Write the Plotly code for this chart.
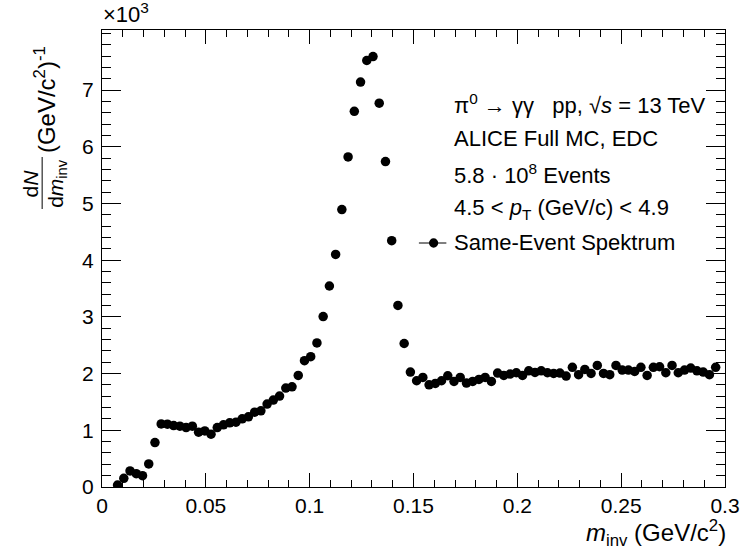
import numpy as np
import plotly.graph_objects as go

# ---------------- data ----------------
bin_width = 0.003
first_bin = 2
counts = [
    35, 154, 283, 235, 200, 407, 783, 1113, 1108, 1083,
    1073, 1048, 1073, 967, 989, 932, 1048, 1096, 1132, 1144,
    1202, 1237, 1320, 1343, 1462, 1533, 1603, 1745, 1767, 1968,
    2228, 2298, 2540, 3005, 3545, 4101, 4893, 5821, 6625, 7142,
    7522, 7592, 6770, 5739, 4345, 3203, 2531, 2027, 1874, 1933,
    1803, 1827, 1874, 1962, 1862, 1933, 1833, 1862, 1897, 1933,
    1862, 2009, 1968, 1992, 2015, 1968, 2050, 2021, 2050, 2015,
    2003, 2009, 1957, 2110, 1980, 2074, 2003, 2145, 2003, 1980,
    2145, 2063, 2063, 2038, 2110, 1968, 2110, 2121, 2015, 2145,
    2015, 2063, 2098, 2050, 2027, 1980, 2110,
]
minv = [round((first_bin + i + 0.5) * bin_width, 5) for i in range(len(counts))]

x_ticks = [0, 0.05, 0.1, 0.15, 0.2, 0.25, 0.3]
x_ticklabels = ["0", "0.05", "0.1", "0.15", "0.2", "0.25", "0.3"]
y_ticks = [0, 1000, 2000, 3000, 4000, 5000, 6000, 7000]
y_ticklabels = ["0", "1", "2", "3", "4", "5", "6", "7"]

legend_lines = [
    "π<sup>0</sup> → γγ\u00a0\u00a0\u00a0pp, √<i>s</i> = 13 TeV",
    "ALICE Full MC, EDC",
    "5.8 · 10<sup>8</sup> Events",
    "4.5 &lt; <i>p</i><sub>T</sub> (GeV/c) &lt; 4.9",
    "Same-Event Spektrum",
]

# ---------------- layout geometry (pixels) ----------------
W, H = 752, 550
L, R, T, B = 102, 737, 30, 487
FONT = "Liberation Sans, Arial, Helvetica, sans-serif"
FS = 21
FL = 22
FT = 24


def px(x):
    return (x - L) / (R - L)


def py(y):
    return (B - y) / (B - T)


fig = go.Figure()
fig.add_trace(go.Scatter(
    x=minv, y=counts, mode="markers",
    marker=dict(symbol="circle", size=9.5, color="black", line=dict(width=0)),
    error_x=dict(type="constant", value=bin_width / 2, color="black", thickness=1, width=0),
    showlegend=False, hoverinfo="x+y",
))

axis_common = dict(
    showline=True, linecolor="black", linewidth=1, mirror="allticks",
    ticks="inside", tickcolor="black", tickwidth=1,
    showgrid=False, zeroline=False,
    tickfont=dict(family=FONT, size=FS, color="black"),
)

fig.update_xaxes(
    **axis_common, range=[0, 0.3], tickvals=x_ticks, ticktext=x_ticklabels, ticklen=14,
    minor=dict(ticks="inside", ticklen=7, dtick=0.01, tickcolor="black", tickwidth=1, showgrid=False),
)
fig.update_yaxes(
    **axis_common, range=[0, 8060], tickvals=y_ticks, ticktext=y_ticklabels, ticklen=19,
    ticklabelstandoff=3,
    minor=dict(ticks="inside", ticklen=9, dtick=200, tickcolor="black", tickwidth=1, showgrid=False),
)

annotations = []
# x10^3 exponent
annotations.append(dict(x=px(101), y=py(13), xref="paper", yref="paper", xanchor="left", yanchor="middle",
                        text="×10<sup>3</sup>", showarrow=False, font=dict(family=FONT, size=22, color="black")))
# x title
annotations.append(dict(x=px(740), y=py(533), xref="paper", yref="paper", xanchor="right", yanchor="middle",
                        text="<i>m</i><sub>inv</sub> (GeV/c<sup>2</sup>)", showarrow=False,
                        font=dict(family=FONT, size=FT, color="black")))
# y title: fraction dN / dm_inv, rotated
annotations.append(dict(x=px(29), y=py(183), xref="paper", yref="paper", xanchor="center", yanchor="middle",
                        text="d<i>N</i>", textangle=-90, showarrow=False,
                        font=dict(family=FONT, size=FS, color="black")))
annotations.append(dict(x=px(56), y=py(183), xref="paper", yref="paper", xanchor="center", yanchor="middle",
                        text="d<i>m</i><sub>inv</sub>", textangle=-90, showarrow=False,
                        font=dict(family=FONT, size=FS, color="black")))
annotations.append(dict(x=px(44), y=py(100), xref="paper", yref="paper", xanchor="center", yanchor="middle",
                        text="(GeV/c<sup>2</sup>)<sup>-1</sup>", textangle=-90, showarrow=False,
                        font=dict(family=FONT, size=FT, color="black")))
# legend block
legend_y = [104, 138, 174, 209, 243]
for txt, yy in zip(legend_lines, legend_y):
    annotations.append(dict(x=px(459), y=py(yy), xref="paper", yref="paper", xanchor="left", yanchor="middle",
                            text=txt, showarrow=False, font=dict(family=FONT, size=FL, color="black")))

shapes = [
    # fraction bar of y title
    dict(type="line", xref="paper", yref="paper", x0=px(41), x1=px(41), y0=py(157), y1=py(209),
         line=dict(color="black", width=1)),
    # legend symbol
    dict(type="line", xref="paper", yref="paper", x0=px(425), x1=px(453), y0=py(243), y1=py(243),
         line=dict(color="black", width=1)),
    dict(type="circle", xref="paper", yref="paper", x0=px(435.3), x1=px(444.7), y0=py(238.3), y1=py(247.7),
         fillcolor="black", line=dict(color="black", width=0)),
]

fig.update_layout(
    width=W, height=H,
    margin=dict(l=L, r=W - R, t=T, b=H - B, pad=0),
    paper_bgcolor="white", plot_bgcolor="white",
    annotations=annotations, shapes=shapes,
    showlegend=False,
    font=dict(family=FONT, size=FS, color="black"),
)

fig.write_html("out.html")
